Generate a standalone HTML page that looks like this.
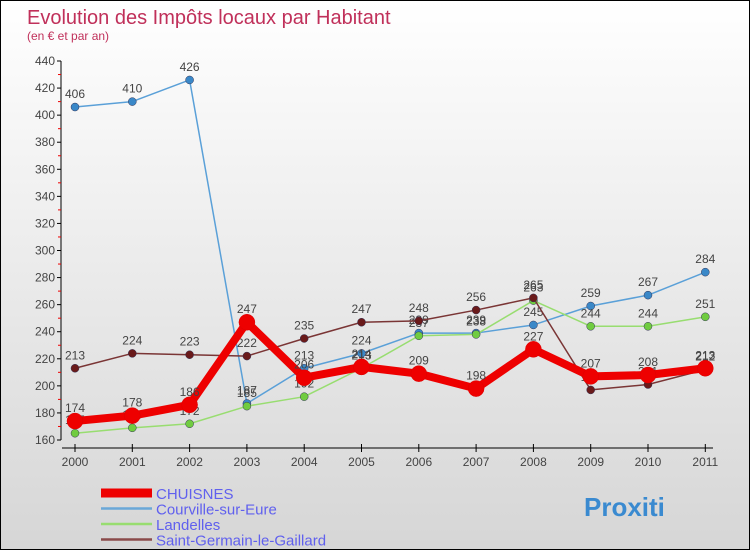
<!DOCTYPE html>
<html><head><meta charset="utf-8"><style>
body{margin:0}
#c{width:750px;height:550px;box-sizing:border-box;border:1px solid #000;background:linear-gradient(#fff,#d6d6d6);position:relative;font-family:"Liberation Sans",sans-serif}
</style></head><body>
<div id="c">
<svg width="748" height="548" xmlns="http://www.w3.org/2000/svg" id="s">
<text x="26" y="23" font-size="20" fill="#c0305a">Evolution des Impôts locaux par Habitant</text>
<text x="26" y="39" font-size="12" fill="#c0305a">(en € et par an)</text>
<g id="axes"></g><g id="series"></g><g id="legend"></g>
</svg></div>
<script>
const years=["2000","2001","2002","2003","2004","2005","2006","2007","2008","2009","2010","2011"];
const yTicks=[160,180,200,220,240,260,280,300,320,340,360,380,400,420,440];
const chuisnes=[174,178,186,247,206,214,209,198,227,207,208,213];
const courville=[406,410,426,187,213,224,239,239,245,259,267,284];
const landelles=[165,169,172,185,192,213,237,238,263,244,244,251];
const stGermain=[213,224,223,222,235,247,248,256,265,197,201,212];
const names=["CHUISNES","Courville-sur-Eure","Landelles","Saint-Germain-le-Gaillard"];
const NS="http://www.w3.org/2000/svg";
const X=i=>74+i*57.3;
const Y=v=>439-(v-160)*(379/280);
function mk(t,a,p){const e=document.createElementNS(NS,t);for(const k in a)e.setAttribute(k,a[k]);p.appendChild(e);return e;}
const ax=document.getElementById('axes');
const yl=mk('line',{x1:60,y1:Y(440),x2:60,y2:Y(160),stroke:'#000'},ax);


yTicks.forEach((v,i)=>{
 mk('line',{x1:56,y1:Y(v),x2:60,y2:Y(v),stroke:'#000'},ax);
 if(i<yTicks.length-1)mk('line',{x1:57,y1:Y(v+10),x2:60,y2:Y(v+10),stroke:'#e00'},ax);
 const t=mk('text',{x:54,y:Y(v)+4,'font-size':12,fill:'#444','text-anchor':'end'},ax);
 t.textContent=v;
 
 
});
const xl=mk('line',{x1:61,y1:447,x2:712,y2:447,stroke:'#000'},ax);


years.forEach((y,i)=>{
 mk('line',{x1:X(i),y1:443,x2:X(i),y2:451,stroke:'#000'},ax);
 const t=mk('text',{x:X(i),y:465,'font-size':12,fill:'#444','text-anchor':'middle'},ax);
 t.textContent=y;
 
 
});
const cfg=[[courville,'#5aa0d8','#3a88c8',1.5,4],[landelles,'#98dd70','#70cc40',1.5,4],[stGermain,'#7a3535','#6a1a1a',1.5,4],[chuisnes,'#ee0000','#ee0000',8,8]];
const keys=["courville","landelles","saint-germain","chuisnes"];
const sg=document.getElementById('series');
cfg.forEach((c,k)=>{
 const g=mk('g',{},sg);
 
 
 mk('polyline',{points:c[0].map((v,i)=>X(i)+','+Y(v)).join(' '),fill:'none',stroke:c[1],'stroke-width':c[3],'stroke-linejoin':'round'},g);
 c[0].forEach((v,i)=>{
  const p=mk('circle',{cx:X(i),cy:Y(v),r:c[4],fill:c[2],stroke:k==3?'#d00':'#335','stroke-width':0.5},g);
  
  
  const t=mk('text',{x:X(i),y:Y(v)-9,'font-size':12,fill:'#444','text-anchor':'middle'},g);
  t.textContent=v;
  
  
 });
});
const lg=document.getElementById('legend');
const lc=[['#ee0000',9],['#6aa8d8',2.5],['#98dd70',2.5],['#8a4a4a',2.5]];
names.forEach((n,i)=>{
 const yy=492+i*15.5;
 mk('line',{x1:100,y1:yy,x2:151,y2:yy,stroke:lc[i][0],'stroke-width':lc[i][1]},lg);
 const t=mk('text',{x:155,y:yy+6,'font-size':15,fill:'#6060ee'},lg);
 t.textContent=n;
 
 
});
const p=mk('text',{x:583,y:515,'font-size':26,'font-weight':'bold',fill:'#3a8ad0'},lg);
p.textContent='Proxiti';


</script>
</body></html>
